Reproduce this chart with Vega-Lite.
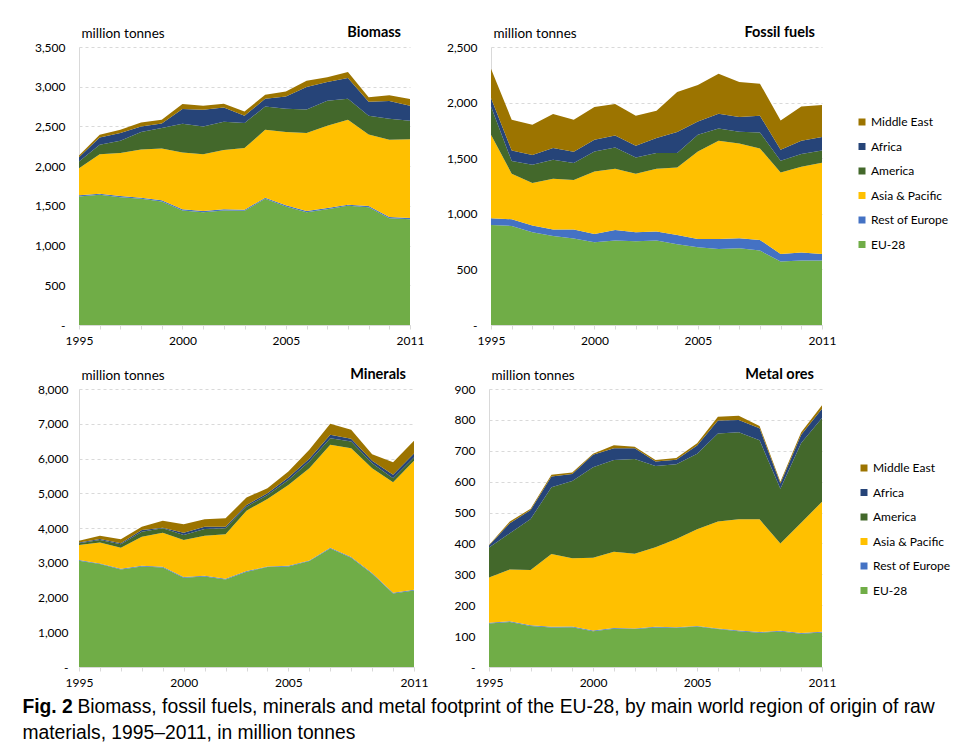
{
"$schema": "https://vega.github.io/schema/vega-lite/v6.json",
"padding": {"left": 22, "top": 24, "right": 5, "bottom": 2},
"background": "white",
"config": {
 "font": "Lato",
 "view": {"stroke": null},
 "area": {"opacity": 1},
 "axisX": {"grid": false, "domainColor": "#d9d9d9", "tickColor": "#d9d9d9", "tickSize": 4, "labelPadding": 6, "labelFontSize": 12, "labelColor": "#000", "title": null, "zindex": 1, "labelFlush": false, "labelOverlap": false},
 "axisY": {"gridColor": "#d9d9d9", "gridDash": [3, 3], "domainColor": "#d9d9d9", "ticks": false, "tickSize": 0, "labelPadding": 14, "labelFontSize": 12, "labelColor": "#000", "titleAngle": 0, "titleAlign": "left", "titleBaseline": "middle", "titleX": 2, "titleY": -14, "titleFontSize": 13.5, "titleFontWeight": "normal", "titleColor": "#000"},
 "title": {"anchor": "end", "frame": "group", "fontSize": 14.5, "fontWeight": "bold", "color": "#000", "dx": -8, "offset": -14},
 "legend": {"orient": "none", "symbolType": "square", "symbolSize": 49, "labelFontSize": 12, "labelColor": "#000", "rowPadding": 12.5, "labelOffset": 3, "padding": 0, "symbolStrokeWidth": 0}
},
"datasets": {
 "biomass": [
  {"year":1995,"region":"EU-28","value":1618},{"year":1996,"region":"EU-28","value":1639},{"year":1997,"region":"EU-28","value":1609},{"year":1998,"region":"EU-28","value":1588},{"year":1999,"region":"EU-28","value":1555},{"year":2000,"region":"EU-28","value":1441},{"year":2001,"region":"EU-28","value":1420},{"year":2002,"region":"EU-28","value":1441},{"year":2003,"region":"EU-28","value":1437},{"year":2004,"region":"EU-28","value":1588},{"year":2005,"region":"EU-28","value":1492},{"year":2006,"region":"EU-28","value":1420},{"year":2007,"region":"EU-28","value":1458},{"year":2008,"region":"EU-28","value":1500},{"year":2009,"region":"EU-28","value":1483},{"year":2010,"region":"EU-28","value":1345},{"year":2011,"region":"EU-28","value":1332},
  {"year":1995,"region":"Rest of Europe","value":15},{"year":1996,"region":"Rest of Europe","value":15},{"year":1997,"region":"Rest of Europe","value":15},{"year":1998,"region":"Rest of Europe","value":15},{"year":1999,"region":"Rest of Europe","value":15},{"year":2000,"region":"Rest of Europe","value":15},{"year":2001,"region":"Rest of Europe","value":15},{"year":2002,"region":"Rest of Europe","value":15},{"year":2003,"region":"Rest of Europe","value":15},{"year":2004,"region":"Rest of Europe","value":15},{"year":2005,"region":"Rest of Europe","value":15},{"year":2006,"region":"Rest of Europe","value":15},{"year":2007,"region":"Rest of Europe","value":15},{"year":2008,"region":"Rest of Europe","value":15},{"year":2009,"region":"Rest of Europe","value":15},{"year":2010,"region":"Rest of Europe","value":15},{"year":2011,"region":"Rest of Europe","value":15},
  {"year":1995,"region":"Asia & Pacific","value":342},{"year":1996,"region":"Asia & Pacific","value":497},{"year":1997,"region":"Asia & Pacific","value":540},{"year":1998,"region":"Asia & Pacific","value":607},{"year":1999,"region":"Asia & Pacific","value":653},{"year":2000,"region":"Asia & Pacific","value":716},{"year":2001,"region":"Asia & Pacific","value":716},{"year":2002,"region":"Asia & Pacific","value":746},{"year":2003,"region":"Asia & Pacific","value":775},{"year":2004,"region":"Asia & Pacific","value":855},{"year":2005,"region":"Asia & Pacific","value":922},{"year":2006,"region":"Asia & Pacific","value":981},{"year":2007,"region":"Asia & Pacific","value":1035},{"year":2008,"region":"Asia & Pacific","value":1069},{"year":2009,"region":"Asia & Pacific","value":901},{"year":2010,"region":"Asia & Pacific","value":972},{"year":2011,"region":"Asia & Pacific","value":993},
  {"year":1995,"region":"America","value":84},{"year":1996,"region":"America","value":118},{"year":1997,"region":"America","value":155},{"year":1998,"region":"America","value":219},{"year":1999,"region":"America","value":256},{"year":2000,"region":"America","value":362},{"year":2001,"region":"America","value":349},{"year":2002,"region":"America","value":357},{"year":2003,"region":"America","value":315},{"year":2004,"region":"America","value":294},{"year":2005,"region":"America","value":294},{"year":2006,"region":"America","value":298},{"year":2007,"region":"America","value":316},{"year":2008,"region":"America","value":265},{"year":2009,"region":"America","value":235},{"year":2010,"region":"America","value":265},{"year":2011,"region":"America","value":231},
  {"year":1995,"region":"Africa","value":54},{"year":1996,"region":"Africa","value":92},{"year":1997,"region":"Africa","value":97},{"year":1998,"region":"Africa","value":71},{"year":1999,"region":"Africa","value":59},{"year":2000,"region":"Africa","value":184},{"year":2001,"region":"Africa","value":210},{"year":2002,"region":"Africa","value":180},{"year":2003,"region":"Africa","value":92},{"year":2004,"region":"Africa","value":97},{"year":2005,"region":"Africa","value":155},{"year":2006,"region":"Africa","value":282},{"year":2007,"region":"Africa","value":235},{"year":2008,"region":"Africa","value":260},{"year":2009,"region":"Africa","value":177},{"year":2010,"region":"Africa","value":222},{"year":2011,"region":"Africa","value":189},
  {"year":1995,"region":"Middle East","value":21},{"year":1996,"region":"Middle East","value":34},{"year":1997,"region":"Middle East","value":42},{"year":1998,"region":"Middle East","value":50},{"year":1999,"region":"Middle East","value":46},{"year":2000,"region":"Middle East","value":63},{"year":2001,"region":"Middle East","value":50},{"year":2002,"region":"Middle East","value":47},{"year":2003,"region":"Middle East","value":55},{"year":2004,"region":"Middle East","value":50},{"year":2005,"region":"Middle East","value":63},{"year":2006,"region":"Middle East","value":80},{"year":2007,"region":"Middle East","value":59},{"year":2008,"region":"Middle East","value":76},{"year":2009,"region":"Middle East","value":55},{"year":2010,"region":"Middle East","value":72},{"year":2011,"region":"Middle East","value":85}
 ],
 "fossil": [
  {"year":1995,"region":"EU-28","value":900},{"year":1996,"region":"EU-28","value":891},{"year":1997,"region":"EU-28","value":834},{"year":1998,"region":"EU-28","value":801},{"year":1999,"region":"EU-28","value":777},{"year":2000,"region":"EU-28","value":744},{"year":2001,"region":"EU-28","value":759},{"year":2002,"region":"EU-28","value":753},{"year":2003,"region":"EU-28","value":759},{"year":2004,"region":"EU-28","value":726},{"year":2005,"region":"EU-28","value":699},{"year":2006,"region":"EU-28","value":684},{"year":2007,"region":"EU-28","value":690},{"year":2008,"region":"EU-28","value":669},{"year":2009,"region":"EU-28","value":570},{"year":2010,"region":"EU-28","value":579},{"year":2011,"region":"EU-28","value":579},
  {"year":1995,"region":"Rest of Europe","value":60},{"year":1996,"region":"Rest of Europe","value":60},{"year":1997,"region":"Rest of Europe","value":60},{"year":1998,"region":"Rest of Europe","value":57},{"year":1999,"region":"Rest of Europe","value":81},{"year":2000,"region":"Rest of Europe","value":75},{"year":2001,"region":"Rest of Europe","value":96},{"year":2002,"region":"Rest of Europe","value":81},{"year":2003,"region":"Rest of Europe","value":81},{"year":2004,"region":"Rest of Europe","value":84},{"year":2005,"region":"Rest of Europe","value":75},{"year":2006,"region":"Rest of Europe","value":90},{"year":2007,"region":"Rest of Europe","value":90},{"year":2008,"region":"Rest of Europe","value":96},{"year":2009,"region":"Rest of Europe","value":69},{"year":2010,"region":"Rest of Europe","value":72},{"year":2011,"region":"Rest of Europe","value":60},
  {"year":1995,"region":"Asia & Pacific","value":751},{"year":1996,"region":"Asia & Pacific","value":409},{"year":1997,"region":"Asia & Pacific","value":382},{"year":1998,"region":"Asia & Pacific","value":457},{"year":1999,"region":"Asia & Pacific","value":445},{"year":2000,"region":"Asia & Pacific","value":562},{"year":2001,"region":"Asia & Pacific","value":550},{"year":2002,"region":"Asia & Pacific","value":526},{"year":2003,"region":"Asia & Pacific","value":565},{"year":2004,"region":"Asia & Pacific","value":607},{"year":2005,"region":"Asia & Pacific","value":787},{"year":2006,"region":"Asia & Pacific","value":883},{"year":2007,"region":"Asia & Pacific","value":853},{"year":2008,"region":"Asia & Pacific","value":823},{"year":2009,"region":"Asia & Pacific","value":733},{"year":2010,"region":"Asia & Pacific","value":772},{"year":2011,"region":"Asia & Pacific","value":820},
  {"year":1995,"region":"America","value":255},{"year":1996,"region":"America","value":114},{"year":1997,"region":"America","value":165},{"year":1998,"region":"America","value":171},{"year":1999,"region":"America","value":153},{"year":2000,"region":"America","value":180},{"year":2001,"region":"America","value":192},{"year":2002,"region":"America","value":147},{"year":2003,"region":"America","value":141},{"year":2004,"region":"America","value":129},{"year":2005,"region":"America","value":150},{"year":2006,"region":"America","value":111},{"year":2007,"region":"America","value":105},{"year":2008,"region":"America","value":144},{"year":2009,"region":"America","value":105},{"year":2010,"region":"America","value":114},{"year":2011,"region":"America","value":111},
  {"year":1995,"region":"Africa","value":75},{"year":1996,"region":"Africa","value":96},{"year":1997,"region":"Africa","value":87},{"year":1998,"region":"Africa","value":105},{"year":1999,"region":"Africa","value":102},{"year":2000,"region":"Africa","value":105},{"year":2001,"region":"Africa","value":108},{"year":2002,"region":"Africa","value":105},{"year":2003,"region":"Africa","value":135},{"year":2004,"region":"Africa","value":189},{"year":2005,"region":"Africa","value":120},{"year":2006,"region":"Africa","value":132},{"year":2007,"region":"Africa","value":132},{"year":2008,"region":"Africa","value":150},{"year":2009,"region":"Africa","value":99},{"year":2010,"region":"Africa","value":120},{"year":2011,"region":"Africa","value":120},
  {"year":1995,"region":"Middle East","value":264},{"year":1996,"region":"Middle East","value":276},{"year":1997,"region":"Middle East","value":273},{"year":1998,"region":"Middle East","value":306},{"year":1999,"region":"Middle East","value":288},{"year":2000,"region":"Middle East","value":294},{"year":2001,"region":"Middle East","value":282},{"year":2002,"region":"Middle East","value":270},{"year":2003,"region":"Middle East","value":246},{"year":2004,"region":"Middle East","value":360},{"year":2005,"region":"Middle East","value":327},{"year":2006,"region":"Middle East","value":360},{"year":2007,"region":"Middle East","value":315},{"year":2008,"region":"Middle East","value":288},{"year":2009,"region":"Middle East","value":264},{"year":2010,"region":"Middle East","value":309},{"year":2011,"region":"Middle East","value":288}
 ],
 "minerals": [
  {"year":1995,"region":"EU-28","value":3058},{"year":1996,"region":"EU-28","value":2962},{"year":1997,"region":"EU-28","value":2808},{"year":1998,"region":"EU-28","value":2894},{"year":1999,"region":"EU-28","value":2865},{"year":2000,"region":"EU-28","value":2567},{"year":2001,"region":"EU-28","value":2606},{"year":2002,"region":"EU-28","value":2519},{"year":2003,"region":"EU-28","value":2740},{"year":2004,"region":"EU-28","value":2875},{"year":2005,"region":"EU-28","value":2894},{"year":2006,"region":"EU-28","value":3048},{"year":2007,"region":"EU-28","value":3413},{"year":2008,"region":"EU-28","value":3144},{"year":2009,"region":"EU-28","value":2683},{"year":2010,"region":"EU-28","value":2115},{"year":2011,"region":"EU-28","value":2202},
  {"year":1995,"region":"Rest of Europe","value":20},{"year":1996,"region":"Rest of Europe","value":20},{"year":1997,"region":"Rest of Europe","value":20},{"year":1998,"region":"Rest of Europe","value":20},{"year":1999,"region":"Rest of Europe","value":20},{"year":2000,"region":"Rest of Europe","value":20},{"year":2001,"region":"Rest of Europe","value":20},{"year":2002,"region":"Rest of Europe","value":20},{"year":2003,"region":"Rest of Europe","value":20},{"year":2004,"region":"Rest of Europe","value":20},{"year":2005,"region":"Rest of Europe","value":20},{"year":2006,"region":"Rest of Europe","value":20},{"year":2007,"region":"Rest of Europe","value":20},{"year":2008,"region":"Rest of Europe","value":20},{"year":2009,"region":"Rest of Europe","value":20},{"year":2010,"region":"Rest of Europe","value":20},{"year":2011,"region":"Rest of Europe","value":20},
  {"year":1995,"region":"Asia & Pacific","value":432},{"year":1996,"region":"Asia & Pacific","value":604},{"year":1997,"region":"Asia & Pacific","value":605},{"year":1998,"region":"Asia & Pacific","value":836},{"year":1999,"region":"Asia & Pacific","value":980},{"year":2000,"region":"Asia & Pacific","value":1067},{"year":2001,"region":"Asia & Pacific","value":1153},{"year":2002,"region":"Asia & Pacific","value":1278},{"year":2003,"region":"Asia & Pacific","value":1740},{"year":2004,"region":"Asia & Pacific","value":1941},{"year":2005,"region":"Asia & Pacific","value":2326},{"year":2006,"region":"Asia & Pacific","value":2653},{"year":2007,"region":"Asia & Pacific","value":2961},{"year":2008,"region":"Asia & Pacific","value":3134},{"year":2009,"region":"Asia & Pacific","value":3018},{"year":2010,"region":"Asia & Pacific","value":3182},{"year":2011,"region":"Asia & Pacific","value":3710},
  {"year":1995,"region":"America","value":48},{"year":1996,"region":"America","value":68},{"year":1997,"region":"America","value":96},{"year":1998,"region":"America","value":144},{"year":1999,"region":"America","value":125},{"year":2000,"region":"America","value":144},{"year":2001,"region":"America","value":192},{"year":2002,"region":"America","value":173},{"year":2003,"region":"America","value":115},{"year":2004,"region":"America","value":116},{"year":2005,"region":"America","value":144},{"year":2006,"region":"America","value":192},{"year":2007,"region":"America","value":192},{"year":2008,"region":"America","value":192},{"year":2009,"region":"America","value":144},{"year":2010,"region":"America","value":116},{"year":2011,"region":"America","value":97},
  {"year":1995,"region":"Africa","value":28},{"year":1996,"region":"Africa","value":29},{"year":1997,"region":"Africa","value":29},{"year":1998,"region":"Africa","value":48},{"year":1999,"region":"Africa","value":20},{"year":2000,"region":"Africa","value":67},{"year":2001,"region":"Africa","value":67},{"year":2002,"region":"Africa","value":48},{"year":2003,"region":"Africa","value":48},{"year":2004,"region":"Africa","value":48},{"year":2005,"region":"Africa","value":68},{"year":2006,"region":"Africa","value":77},{"year":2007,"region":"Africa","value":96},{"year":2008,"region":"Africa","value":77},{"year":2009,"region":"Africa","value":67},{"year":2010,"region":"Africa","value":96},{"year":2011,"region":"Africa","value":115},
  {"year":1995,"region":"Middle East","value":48},{"year":1996,"region":"Middle East","value":96},{"year":1997,"region":"Middle East","value":115},{"year":1998,"region":"Middle East","value":96},{"year":1999,"region":"Middle East","value":201},{"year":2000,"region":"Middle East","value":241},{"year":2001,"region":"Middle East","value":212},{"year":2002,"region":"Middle East","value":241},{"year":2003,"region":"Middle East","value":212},{"year":2004,"region":"Middle East","value":144},{"year":2005,"region":"Middle East","value":173},{"year":2006,"region":"Middle East","value":260},{"year":2007,"region":"Middle East","value":318},{"year":2008,"region":"Middle East","value":260},{"year":2009,"region":"Middle East","value":193},{"year":2010,"region":"Middle East","value":365},{"year":2011,"region":"Middle East","value":366}
 ],
 "metal": [
  {"year":1995,"region":"EU-28","value":141},{"year":1996,"region":"EU-28","value":146},{"year":1997,"region":"EU-28","value":133},{"year":1998,"region":"EU-28","value":128},{"year":1999,"region":"EU-28","value":129},{"year":2000,"region":"EU-28","value":116},{"year":2001,"region":"EU-28","value":124},{"year":2002,"region":"EU-28","value":123},{"year":2003,"region":"EU-28","value":128},{"year":2004,"region":"EU-28","value":127},{"year":2005,"region":"EU-28","value":131},{"year":2006,"region":"EU-28","value":123},{"year":2007,"region":"EU-28","value":116},{"year":2008,"region":"EU-28","value":111},{"year":2009,"region":"EU-28","value":115},{"year":2010,"region":"EU-28","value":108},{"year":2011,"region":"EU-28","value":112},
  {"year":1995,"region":"Rest of Europe","value":2},{"year":1996,"region":"Rest of Europe","value":2},{"year":1997,"region":"Rest of Europe","value":2},{"year":1998,"region":"Rest of Europe","value":2},{"year":1999,"region":"Rest of Europe","value":2},{"year":2000,"region":"Rest of Europe","value":2},{"year":2001,"region":"Rest of Europe","value":2},{"year":2002,"region":"Rest of Europe","value":2},{"year":2003,"region":"Rest of Europe","value":2},{"year":2004,"region":"Rest of Europe","value":2},{"year":2005,"region":"Rest of Europe","value":2},{"year":2006,"region":"Rest of Europe","value":2},{"year":2007,"region":"Rest of Europe","value":2},{"year":2008,"region":"Rest of Europe","value":2},{"year":2009,"region":"Rest of Europe","value":2},{"year":2010,"region":"Rest of Europe","value":2},{"year":2011,"region":"Rest of Europe","value":2},
  {"year":1995,"region":"Asia & Pacific","value":147},{"year":1996,"region":"Asia & Pacific","value":168},{"year":1997,"region":"Asia & Pacific","value":179},{"year":1998,"region":"Asia & Pacific","value":236},{"year":1999,"region":"Asia & Pacific","value":221},{"year":2000,"region":"Asia & Pacific","value":236},{"year":2001,"region":"Asia & Pacific","value":247},{"year":2002,"region":"Asia & Pacific","value":242},{"year":2003,"region":"Asia & Pacific","value":258},{"year":2004,"region":"Asia & Pacific","value":285},{"year":2005,"region":"Asia & Pacific","value":313},{"year":2006,"region":"Asia & Pacific","value":346},{"year":2007,"region":"Asia & Pacific","value":360},{"year":2008,"region":"Asia & Pacific","value":365},{"year":2009,"region":"Asia & Pacific","value":283},{"year":2010,"region":"Asia & Pacific","value":357},{"year":2011,"region":"Asia & Pacific","value":421},
  {"year":1995,"region":"America","value":97},{"year":1996,"region":"America","value":117},{"year":1997,"region":"America","value":165},{"year":1998,"region":"America","value":216},{"year":1999,"region":"America","value":250},{"year":2000,"region":"America","value":293},{"year":2001,"region":"America","value":297},{"year":2002,"region":"America","value":306},{"year":2003,"region":"America","value":263},{"year":2004,"region":"America","value":242},{"year":2005,"region":"America","value":244},{"year":2006,"region":"America","value":285},{"year":2007,"region":"America","value":282},{"year":2008,"region":"America","value":256},{"year":2009,"region":"America","value":177},{"year":2010,"region":"America","value":258},{"year":2011,"region":"America","value":271},
  {"year":1995,"region":"Africa","value":6},{"year":1996,"region":"Africa","value":32},{"year":1997,"region":"Africa","value":29},{"year":1998,"region":"Africa","value":35},{"year":1999,"region":"Africa","value":23},{"year":2000,"region":"Africa","value":40},{"year":2001,"region":"Africa","value":38},{"year":2002,"region":"Africa","value":35},{"year":2003,"region":"Africa","value":14},{"year":2004,"region":"Africa","value":15},{"year":2005,"region":"Africa","value":27},{"year":2006,"region":"Africa","value":42},{"year":2007,"region":"Africa","value":40},{"year":2008,"region":"Africa","value":39},{"year":2009,"region":"Africa","value":17},{"year":2010,"region":"Africa","value":27},{"year":2011,"region":"Africa","value":30},
  {"year":1995,"region":"Middle East","value":2},{"year":1996,"region":"Middle East","value":6},{"year":1997,"region":"Middle East","value":4},{"year":1998,"region":"Middle East","value":5},{"year":1999,"region":"Middle East","value":5},{"year":2000,"region":"Middle East","value":3},{"year":2001,"region":"Middle East","value":10},{"year":2002,"region":"Middle East","value":5},{"year":2003,"region":"Middle East","value":5},{"year":2004,"region":"Middle East","value":6},{"year":2005,"region":"Middle East","value":7},{"year":2006,"region":"Middle East","value":12},{"year":2007,"region":"Middle East","value":13},{"year":2008,"region":"Middle East","value":7},{"year":2009,"region":"Middle East","value":6},{"year":2010,"region":"Middle East","value":8},{"year":2011,"region":"Middle East","value":11}
 ]
},
"title": {"text": "materials, 1995–2011, in million tonnes", "orient": "bottom", "anchor": "start", "frame": "bounds", "fontSize": 19.3, "fontWeight": "normal", "font": "Liberation Sans", "offset": 6, "dx": 0, "color": "#000"},
"resolve": {"scale": {"color": "independent"}},
"vconcat": [
 {"title": {"text": "Biomass, fossil fuels, minerals and metal footprint of the EU-28, by main world region of origin of raw", "orient": "bottom", "anchor": "start", "frame": "bounds", "fontSize": 19.3, "fontWeight": "normal", "font": "Liberation Sans", "offset": -19, "dx": 55, "color": "#000"},
  "resolve": {"scale": {"color": "independent"}},
  "spacing": 20,
  "vconcat": [
 {"hconcat": [
  {"width": 331, "height": 278, "data": {"name": "biomass"}, "title": {"text": "Biomass", "dx": -9}, "mark": {"type": "area"},
   "encoding": {
    "x": {"field": "year", "type": "quantitative", "scale": {"domain": [1995, 2011], "nice": false, "zero": false}, "axis": {"values": [1995,1996,1997,1998,1999,2000,2001,2002,2003,2004,2005,2006,2007,2008,2009,2010,2011], "format": "d", "labelExpr": "indexof([1995,2000,2005,2011], datum.value) >= 0 ? datum.label : ''"}},
    "y": {"field": "value", "type": "quantitative", "stack": "zero", "scale": {"domain": [0, 3500], "nice": false}, "axis": {"values": [0,500,1000,1500,2000,2500,3000,3500], "labelExpr": "datum.value === 0 ? '-\u00a0\u00a0' : format(datum.value, ',')", "title": "million tonnes"}},
    "color": {"field": "region", "type": "nominal", "sort": ["Middle East","Africa","America","Asia & Pacific","Rest of Europe","EU-28"], "scale": {"domain": ["Middle East","Africa","America","Asia & Pacific","Rest of Europe","EU-28"], "range": ["#9C7400","#264478","#43682B","#FFC000","#4472C4","#70AD47"]}, "legend": null},
    "order": {"field": "color_region_sort_index", "type": "quantitative", "sort": "descending"}
   }},
  {"width": 331, "height": 278, "data": {"name": "fossil"}, "title": {"text": "Fossil fuels", "dx": -7}, "mark": {"type": "area"},
   "encoding": {
    "x": {"field": "year", "type": "quantitative", "scale": {"domain": [1995, 2011], "nice": false, "zero": false}, "axis": {"values": [1995,1996,1997,1998,1999,2000,2001,2002,2003,2004,2005,2006,2007,2008,2009,2010,2011], "format": "d", "labelExpr": "indexof([1995,2000,2005,2011], datum.value) >= 0 ? datum.label : ''"}},
    "y": {"field": "value", "type": "quantitative", "stack": "zero", "scale": {"domain": [0, 2500], "nice": false}, "axis": {"values": [0,500,1000,1500,2000,2500], "labelExpr": "datum.value === 0 ? '-\u00a0\u00a0' : format(datum.value, ',')", "title": "million tonnes"}},
    "color": {"field": "region", "type": "nominal", "sort": ["Middle East","Africa","America","Asia & Pacific","Rest of Europe","EU-28"], "scale": {"domain": ["Middle East","Africa","America","Asia & Pacific","Rest of Europe","EU-28"], "range": ["#9C7400","#264478","#43682B","#FFC000","#4472C4","#70AD47"]}, "legend": {"title": null, "legendX": 365, "legendY": 69}},
    "order": {"field": "color_region_sort_index", "type": "quantitative", "sort": "descending"}
   }}
 ], "spacing": 22, "resolve": {"scale": {"color": "independent"}}},
 {"hconcat": [
  {"width": 335, "height": 278, "data": {"name": "minerals"}, "title": {"text": "Minerals"}, "mark": {"type": "area"},
   "encoding": {
    "x": {"field": "year", "type": "quantitative", "scale": {"domain": [1995, 2011], "nice": false, "zero": false}, "axis": {"values": [1995,1996,1997,1998,1999,2000,2001,2002,2003,2004,2005,2006,2007,2008,2009,2010,2011], "format": "d", "labelExpr": "indexof([1995,2000,2005,2011], datum.value) >= 0 ? datum.label : ''"}},
    "y": {"field": "value", "type": "quantitative", "stack": "zero", "scale": {"domain": [0, 8000], "nice": false}, "axis": {"values": [0,1000,2000,3000,4000,5000,6000,7000,8000], "labelPadding": 11, "labelExpr": "datum.value === 0 ? '-\u00a0\u00a0' : format(datum.value, ',')", "title": "million tonnes"}},
    "color": {"field": "region", "type": "nominal", "sort": ["Middle East","Africa","America","Asia & Pacific","Rest of Europe","EU-28"], "scale": {"domain": ["Middle East","Africa","America","Asia & Pacific","Rest of Europe","EU-28"], "range": ["#9C7400","#264478","#43682B","#FFC000","#4472C4","#70AD47"]}, "legend": null},
    "order": {"field": "color_region_sort_index", "type": "quantitative", "sort": "descending"}
   }},
  {"width": 333, "height": 278, "data": {"name": "metal"}, "title": {"text": "Metal ores"}, "mark": {"type": "area"},
   "encoding": {
    "x": {"field": "year", "type": "quantitative", "scale": {"domain": [1995, 2011], "nice": false, "zero": false}, "axis": {"values": [1995,1996,1997,1998,1999,2000,2001,2002,2003,2004,2005,2006,2007,2008,2009,2010,2011], "format": "d", "labelExpr": "indexof([1995,2000,2005,2011], datum.value) >= 0 ? datum.label : ''"}},
    "y": {"field": "value", "type": "quantitative", "stack": "zero", "scale": {"domain": [0, 900], "nice": false}, "axis": {"values": [0,100,200,300,400,500,600,700,800,900], "labelExpr": "datum.value === 0 ? '-\u00a0\u00a0' : format(datum.value, ',')", "title": "million tonnes"}},
    "color": {"field": "region", "type": "nominal", "sort": ["Middle East","Africa","America","Asia & Pacific","Rest of Europe","EU-28"], "scale": {"domain": ["Middle East","Africa","America","Asia & Pacific","Rest of Europe","EU-28"], "range": ["#9C7400","#264478","#43682B","#FFC000","#4472C4","#70AD47"]}, "legend": {"title": null, "legendX": 369, "legendY": 73}},
    "order": {"field": "color_region_sort_index", "type": "quantitative", "sort": "descending"}
   }}
 ], "spacing": 26, "resolve": {"scale": {"color": "independent"}},
 "title": {"text": "Fig. 2", "orient": "bottom", "anchor": "start", "frame": "bounds", "fontSize": 19.3, "fontWeight": "bold", "font": "Liberation Sans", "dx": -15, "offset": 10, "color": "#000"}}
  ]
 }
]
}
